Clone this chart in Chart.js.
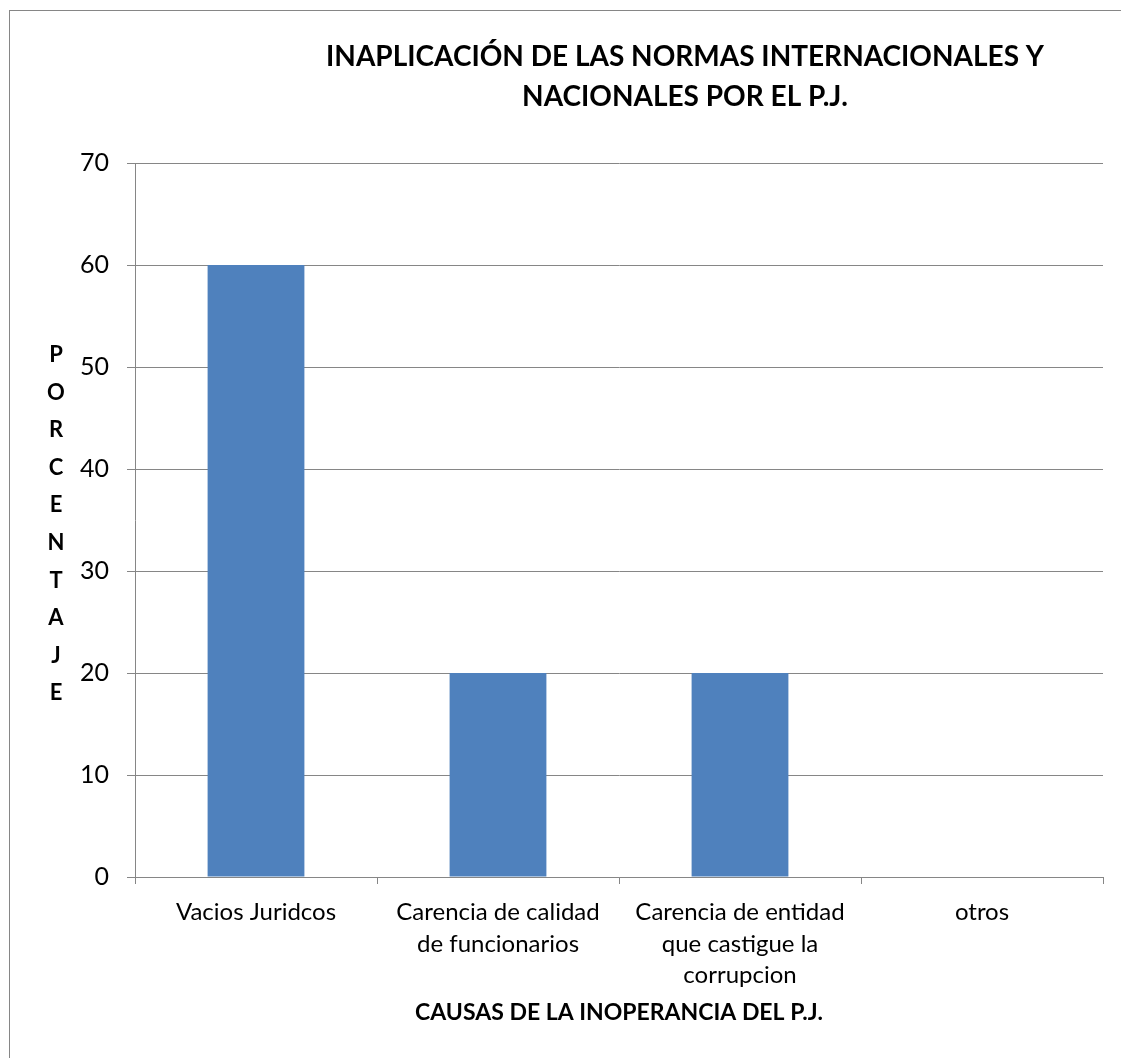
<!DOCTYPE html>
<html>
<head>
<meta charset="utf-8">
<script src="https://cdn.jsdelivr.net/npm/chart.js@4.4.1/dist/chart.umd.min.js"></script>
<style>
  html, body { margin: 0; padding: 0; background: #ffffff; }
  #wrap { width: 1121px; height: 1058px; }
</style>
</head>
<body>
<div id="wrap"><canvas id="c" width="1121" height="1058"></canvas></div>
<script>
// ---- data ----
const categories = [
  ["Vacios Juridcos"],
  ["Carencia de calidad", "de funcionarios"],
  ["Carencia de entidad", "que castigue la", "corrupcion"],
  ["otros"]
];
const percentages = [60, 20, 20, 0];
const titleLines = ["INAPLICACIÓN DE LAS NORMAS INTERNACIONALES Y", "NACIONALES POR EL P.J."];
const yTitle = "PORCENTAJE";
const xTitle = "CAUSAS DE LA INOPERANCIA DEL P.J.";
const yMin = 0, yMax = 70, yStep = 10;

const FONT = "Lato";
const GRAY = "#868686";

const decorPlugin = {
  id: "decor",
  beforeDraw(chart) {
    const ctx = chart.ctx;
    ctx.save();
    ctx.fillStyle = "#ffffff";
    ctx.fillRect(0, 0, chart.width, chart.height);
    ctx.strokeStyle = GRAY;
    ctx.lineWidth = 1;
    ctx.strokeRect(9.5, 10.5, 1300, 1300);
    ctx.restore();
  },
  afterDraw(chart) {
    const ctx = chart.ctx;
    ctx.save();
    ctx.fillStyle = "#000000";
    ctx.textAlign = "center";
    ctx.textBaseline = "middle";
    ctx.font = "bold 28px " + FONT;
    titleLines.forEach((t, i) => ctx.fillText(t, 685, 57 + i * 40));
    ctx.font = "bold 22px " + FONT;
    const letters = yTitle.split("");
    const step = 37.6;
    const y0 = 355;
    letters.forEach((ch, i) => ctx.fillText(ch, 56, y0 + i * step));
    ctx.restore();
  }
};

new Chart(document.getElementById("c"), {
  type: "bar",
  data: {
    labels: categories,
    datasets: [{
      data: percentages,
      backgroundColor: "#4F81BD",
      borderWidth: 0,
      barPercentage: 0.4,
      categoryPercentage: 1.0
    }]
  },
  options: {
    responsive: false,
    animation: false,
    devicePixelRatio: 1,
    layout: { padding: { left: 0, right: 18, top: 163, bottom: 0 } },
    plugins: {
      legend: { display: false },
      tooltip: { enabled: false },
      title: { display: false }
    },
    scales: {
      x: {
        grid: {
          display: true,
          drawOnChartArea: false,
          drawTicks: true,
          tickLength: 7,
          color: GRAY,
          offset: true
        },
        border: { display: true, color: GRAY, width: 1 },
        ticks: {
          color: "#000000",
          font: { family: FONT, size: 24, lineHeight: 1.3 },
          padding: 13,
          maxRotation: 0,
          autoSkip: false
        },
        title: {
          display: true,
          text: xTitle,
          color: "#000000",
          font: { family: FONT, size: 23, weight: "bold" },
          padding: { top: 0, bottom: 32 }
        },
        afterFit(scale) { scale.height = 1058 - 877; }
      },
      y: {
        min: yMin,
        max: yMax,
        ticks: {
          stepSize: yStep,
          color: "#000000",
          font: { family: FONT, size: 25 },
          padding: 18
        },
        grid: {
          color: GRAY,
          tickLength: 8,
          drawTicks: true
        },
        border: { display: true, color: GRAY, width: 1 },
        afterFit(scale) { scale.width = 135; }
      }
    }
  },
  plugins: [decorPlugin]
});
</script>
</body>
</html>
